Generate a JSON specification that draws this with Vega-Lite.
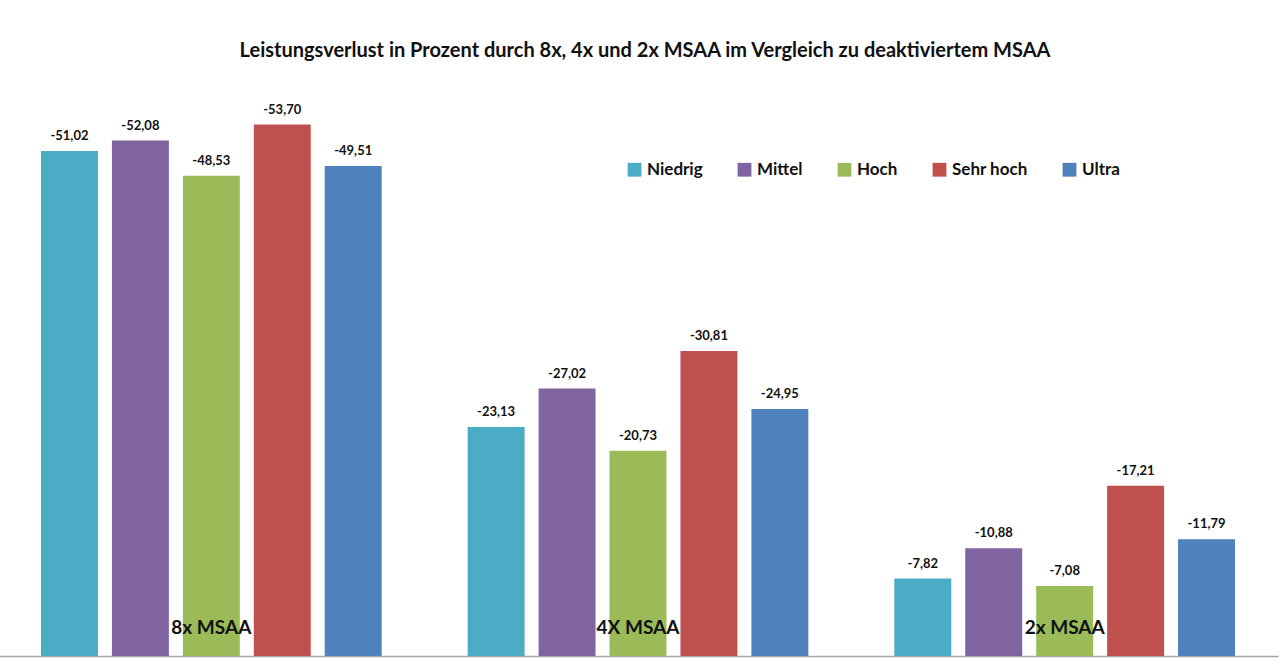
{
  "$schema": "https://vega.github.io/schema/vega-lite/v6.json",
  "width": 1280,
  "height": 576,
  "autosize": {"type": "none"},
  "padding": {"top": 80, "left": -2, "right": 2, "bottom": 11},
  "background": "white",
  "title": {
    "text": "Leistungsverlust in Prozent durch 8x, 4x und 2x MSAA im Vergleich zu deaktiviertem MSAA",
    "font": "Lato",
    "fontSize": 20,
    "fontWeight": "bold",
    "color": "#111111",
    "anchor": "middle",
    "dx": 7,
    "offset": 19
  },
  "config": {
    "view": {"stroke": null},
    "locale": {"number": {"decimal": ",", "thousands": ".", "grouping": [3], "currency": ["", " €"], "minus": "-"}}
  },
  "datasets": {
    "bars": [
      {"gruppe": "8x MSAA", "stufe": "Niedrig", "wert": -51.02},
      {"gruppe": "8x MSAA", "stufe": "Mittel", "wert": -52.08},
      {"gruppe": "8x MSAA", "stufe": "Hoch", "wert": -48.53},
      {"gruppe": "8x MSAA", "stufe": "Sehr hoch", "wert": -53.70},
      {"gruppe": "8x MSAA", "stufe": "Ultra", "wert": -49.51},
      {"gruppe": "4X MSAA", "stufe": "Niedrig", "wert": -23.13},
      {"gruppe": "4X MSAA", "stufe": "Mittel", "wert": -27.02},
      {"gruppe": "4X MSAA", "stufe": "Hoch", "wert": -20.73},
      {"gruppe": "4X MSAA", "stufe": "Sehr hoch", "wert": -30.81},
      {"gruppe": "4X MSAA", "stufe": "Ultra", "wert": -24.95},
      {"gruppe": "2x MSAA", "stufe": "Niedrig", "wert": -7.82},
      {"gruppe": "2x MSAA", "stufe": "Mittel", "wert": -10.88},
      {"gruppe": "2x MSAA", "stufe": "Hoch", "wert": -7.08},
      {"gruppe": "2x MSAA", "stufe": "Sehr hoch", "wert": -17.21},
      {"gruppe": "2x MSAA", "stufe": "Ultra", "wert": -11.79}
    ],
    "gruppen": [
      {"gruppe": "8x MSAA"},
      {"gruppe": "4X MSAA"},
      {"gruppe": "2x MSAA"}
    ]
  },
  "encoding": {
    "x": {
      "field": "gruppe",
      "type": "nominal",
      "sort": ["8x MSAA", "4X MSAA", "2x MSAA"],
      "scale": {"paddingInner": 0, "paddingOuter": 0},
      "axis": {"title": null, "labels": false, "ticks": false, "domain": true, "domainColor": "#a6a6a6", "domainWidth": 1.5, "grid": false}
    }
  },
  "layer": [
    {
      "data": {"name": "bars"},
      "mark": {"type": "bar"},
      "encoding": {
        "xOffset": {"field": "stufe", "type": "nominal", "sort": ["Niedrig", "Mittel", "Hoch", "Sehr hoch", "Ultra"], "scale": {"paddingInner": 0.197, "paddingOuter": 0.606}},
        "y": {"field": "wert", "type": "quantitative", "scale": {"domain": [-58.2, 0], "reverse": true, "nice": false}, "axis": null},
        "color": {
          "field": "stufe",
          "type": "nominal",
          "sort": ["Niedrig", "Mittel", "Hoch", "Sehr hoch", "Ultra"],
          "scale": {"domain": ["Niedrig", "Mittel", "Hoch", "Sehr hoch", "Ultra"], "range": ["#4BACC6", "#8064A2", "#9BBB59", "#C0504D", "#4F81BD"]},
          "legend": {
            "title": null,
            "orient": "none",
            "direction": "horizontal",
            "legendX": 628,
            "legendY": 81,
            "symbolType": "square",
            "symbolSize": 190,
            "symbolStrokeWidth": 0,
            "symbolOpacity": 1,
            "labelFont": "Lato",
            "labelFontSize": 17,
            "labelFontWeight": "bold",
            "labelColor": "#111111",
            "labelOffset": 4,
            "columnPadding": 33
          }
        }
      }
    },
    {
      "data": {"name": "bars"},
      "mark": {"type": "text", "font": "Lato", "fontSize": 13, "fontWeight": "bold", "color": "#111111", "baseline": "bottom", "dy": -8},
      "encoding": {
        "xOffset": {"field": "stufe", "type": "nominal", "sort": ["Niedrig", "Mittel", "Hoch", "Sehr hoch", "Ultra"]},
        "y": {"field": "wert", "type": "quantitative"},
        "text": {"field": "wert", "type": "quantitative", "format": ".2f"}
      }
    },
    {
      "data": {"name": "gruppen"},
      "mark": {"type": "text", "font": "Lato", "fontSize": 19, "fontWeight": "bold", "color": "#111111", "baseline": "middle"},
      "encoding": {
        "y": {"datum": -2.83, "type": "quantitative"},
        "text": {"field": "gruppe", "type": "nominal"}
      }
    }
  ]
}
